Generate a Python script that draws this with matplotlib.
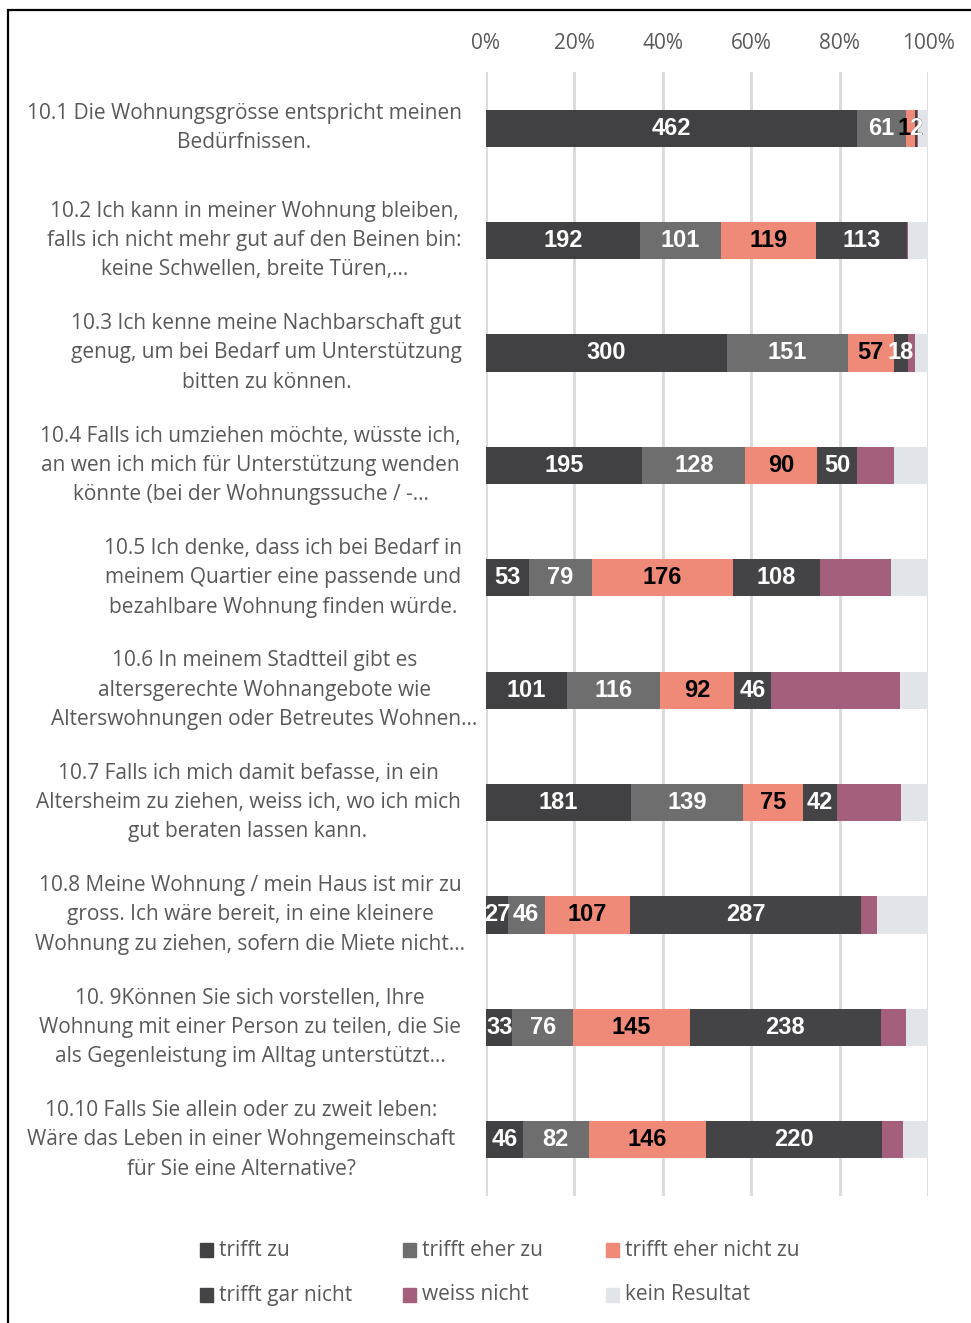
import numpy as np
import matplotlib
matplotlib.use("Agg")
import matplotlib.pyplot as plt
import matplotlib.transforms as mtransforms
from matplotlib import font_manager
from matplotlib.patches import Rectangle

# ---- data -------------------------------------------------------------
questions = [
    "10.1 Die Wohnungsgrösse entspricht meinen\nBedürfnissen.",
    "10.2 Ich kann in meiner Wohnung bleiben,\nfalls ich nicht mehr gut auf den Beinen bin:\nkeine Schwellen, breite Türen,…",
    "10.3 Ich kenne meine Nachbarschaft gut\ngenug, um bei Bedarf um Unterstützung\nbitten zu können.",
    "10.4 Falls ich umziehen möchte, wüsste ich,\nan wen ich mich für Unterstützung wenden\nkönnte (bei der Wohnungssuche / -…",
    "10.5 Ich denke, dass ich bei Bedarf in\nmeinem Quartier eine passende und\nbezahlbare Wohnung finden würde.",
    "10.6 In meinem Stadtteil gibt es\naltersgerechte Wohnangebote wie\nAlterswohnungen oder Betreutes Wohnen…",
    "10.7 Falls ich mich damit befasse, in ein\nAltersheim zu ziehen, weiss ich, wo ich mich\ngut beraten lassen kann.",
    "10.8 Meine Wohnung / mein Haus ist mir zu\ngross. Ich wäre bereit, in eine kleinere\nWohnung zu ziehen, sofern die Miete nicht…",
    "10. 9Können Sie sich vorstellen, Ihre\nWohnung mit einer Person zu teilen, die Sie\nals Gegenleistung im Alltag unterstützt…",
    "10.10 Falls Sie allein oder zu zweit leben:\nWäre das Leben in einer Wohngemeinschaft\nfür Sie eine Alternative?",
]

series_names = ["trifft zu", "trifft eher zu", "trifft eher nicht zu",
                "trifft gar nicht", "weiss nicht", "kein Resultat"]

trifft_zu = [462, 192, 300, 195, 53, 101, 181, 27, 33, 46]
trifft_eher_zu = [61, 101, 151, 128, 79, 116, 139, 46, 76, 82]
trifft_eher_nicht_zu = [12, 119, 57, 90, 176, 92, 75, 107, 145, 146]
trifft_gar_nicht = [2, 113, 18, 50, 108, 46, 42, 287, 238, 220]
weiss_nicht = [1, 1, 9, 45, 89, 161, 80, 21, 32, 26]
kein_resultat = [13, 25, 16, 43, 46, 35, 34, 63, 27, 31]

# ---- style ------------------------------------------------------------
colors = ["#414143", "#6e6e6e", "#ef8a78", "#444446", "#a35f7c", "#e1e4e9"]
label_colors = ["white", "white", "black", "white", None, None]
text_grey = "#595959"

# x centre (pixels) of each question label block
label_centres_px = [244.5, 254.5, 266.5, 250.5, 283.5, 264.5, 248, 250, 250, 241.5]


def bold_value_font():
    # Arial-like bold; avoid matching the Narrow variant
    for path in font_manager.findSystemFonts():
        if path.endswith("LiberationSans-Bold.ttf"):
            return font_manager.FontProperties(fname=path, size=17)
    return font_manager.FontProperties(family="DejaVu Sans", weight="bold", size=15)


plt.rcParams["font.family"] = ["Open Sans", "DejaVu Sans"]
value_font = bold_value_font()

W, H = 971, 1323
fig = plt.figure(figsize=(W / 100, H / 100), dpi=100)
ax = fig.add_axes([486 / W, 1 - 1196 / H, (928 - 486) / W, (1196 - 72) / H])

values = np.array([trifft_zu, trifft_eher_zu, trifft_eher_nicht_zu,
                   trifft_gar_nicht, weiss_nicht, kein_resultat], dtype=float)
totals = values.sum(axis=0)
shares = values / totals * 100

y = np.arange(len(questions))
left = np.zeros(len(questions))
for s, name in enumerate(series_names):
    ax.barh(y, shares[s], left=left, height=0.33, color=colors[s],
            edgecolor="none", label=name, zorder=2)
    if label_colors[s] is not None:
        for i in range(len(questions)):
            if values[s, i] <= 0:
                continue
            ax.text(left[i] + shares[s, i] / 2, y[i], f"{int(values[s, i])}",
                    ha="center", va="center", color=label_colors[s],
                    fontproperties=value_font, zorder=3)
    left += shares[s]

ax.set_xlim(0, 100)
ax.set_ylim(len(questions) - 0.5, -0.5)
ax.set_xticks(np.arange(0, 101, 20))
ax.set_xticklabels([f"{v}%" for v in range(0, 101, 20)])
ax.xaxis.tick_top()
ax.tick_params(axis="x", length=0, pad=13, labelsize=15, labelcolor=text_grey)
ax.set_yticks([])
ax.grid(axis="x", color="#d9d9d9", linewidth=2, zorder=0)
ax.set_axisbelow(True)
for sp in ax.spines.values():
    sp.set_visible(False)

# question labels: x in figure coords, y in data coords
trans = mtransforms.blended_transform_factory(fig.transFigure, ax.transData)
for i, q in enumerate(questions):
    ax.text(label_centres_px[i] / W, y[i], q, transform=trans,
            ha="center", va="center", multialignment="center",
            fontsize=15, color=text_grey, linespacing=1.52, clip_on=False)

# legend (Excel-like fixed grid)
for k, name in enumerate(series_names):
    col, row = k % 3, k // 3
    x0 = 200 + col * 203
    yc = 1250 + row * 45
    fig.add_artist(Rectangle((x0 / W, 1 - (yc + 7) / H), 13 / W, 14 / H,
                             transform=fig.transFigure, color=colors[k]))
    fig.text((x0 + 19) / W, 1 - yc / H, name, ha="left", va="center",
             fontsize=15, color=text_grey)

# outer frame (only top and left edges are inside the image)
fig.add_artist(Rectangle((8 / W, -0.05), 1.2, 1 - 10 / H + 0.05,
                         transform=fig.transFigure, fill=False,
                         edgecolor="black", linewidth=1.6))

fig.savefig("out.png", dpi=100)
